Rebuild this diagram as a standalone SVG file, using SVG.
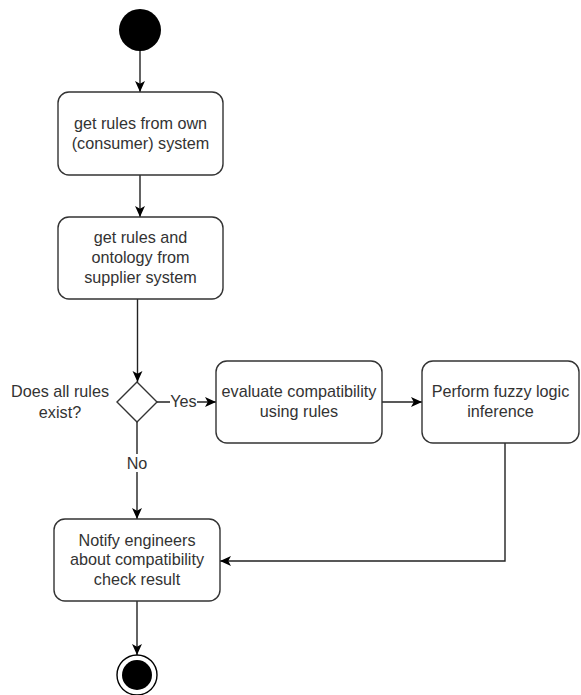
<svg xmlns="http://www.w3.org/2000/svg" width="581" height="695" viewBox="0 0 581 695">
<style>
.box{fill:#fff;stroke:#333;stroke-width:1.4}
.t{font-family:"Liberation Sans",Arial,sans-serif;font-size:16.2px;fill:#333;text-anchor:middle}
.c{fill:none;stroke:#222;stroke-width:1.4}
</style>
<defs>
<marker id="arr" viewBox="0 0 10 10" refX="10" refY="5" markerWidth="11" markerHeight="11" markerUnits="userSpaceOnUse" orient="auto">
<path d="M0,0.5 L10,5 L0,9.5 L2.5,5 Z" fill="#000"/>
</marker>
</defs>
<rect width="581" height="695" fill="#fff"/>
<g id="connectors">
<line class="c" x1="140" y1="51" x2="140" y2="92" marker-end="url(#arr)"/>
<line class="c" x1="140" y1="175" x2="140" y2="217" marker-end="url(#arr)"/>
<line class="c" x1="137.5" y1="299" x2="137.5" y2="382" marker-end="url(#arr)"/>
<line class="c" x1="157" y1="402" x2="216" y2="402" marker-end="url(#arr)"/>
<line class="c" x1="382" y1="402" x2="422" y2="402" marker-end="url(#arr)"/>
<line class="c" x1="137" y1="422" x2="137" y2="519" marker-end="url(#arr)"/>
<polyline class="c" points="505,443 505,561 220,561" marker-end="url(#arr)"/>
<line class="c" x1="137" y1="601" x2="137" y2="655" marker-end="url(#arr)"/>
<rect x="170" y="394" width="27" height="14" fill="#fff"/>
<text class="t" x="183.5" y="407">Yes</text>
<rect x="126" y="454" width="22" height="18" fill="#fff"/>
<text class="t" x="137" y="469">No</text>
</g>
<g id="start">
<circle cx="140" cy="30" r="21" fill="#000"/>
</g>
<g id="getOwnRules">
<rect class="box" x="58" y="92" width="165" height="83" rx="11"/>
<text class="t" x="140.5" y="129">get rules from own</text>
<text class="t" x="140.5" y="149">(consumer) system</text>
</g>
<g id="getSupplierRules">
<rect class="box" x="58" y="217" width="165" height="82" rx="11"/>
<text class="t" x="140.5" y="243">get rules and</text>
<text class="t" x="140.5" y="263">ontology from</text>
<text class="t" x="140.5" y="283">supplier system</text>
</g>
<g id="decision">
<polygon class="box" points="137,382 157,402 137,422 117,402"/>
<text class="t" x="60" y="397">Does all rules</text>
<text class="t" x="60" y="418">exist?</text>
</g>
<g id="evaluate">
<rect class="box" x="216" y="361" width="166" height="82" rx="11"/>
<text class="t" x="299" y="397">evaluate compatibility</text>
<text class="t" x="299" y="417">using rules</text>
</g>
<g id="fuzzy">
<rect class="box" x="422" y="361" width="157" height="82" rx="11"/>
<text class="t" x="500.5" y="397">Perform fuzzy logic</text>
<text class="t" x="500.5" y="417">inference</text>
</g>
<g id="notify">
<rect class="box" x="54" y="519" width="166" height="82" rx="11"/>
<text class="t" x="137" y="546">Notify engineers</text>
<text class="t" x="137" y="565">about compatibility</text>
<text class="t" x="137" y="585">check result</text>
</g>
<g id="end">
<circle cx="137" cy="675" r="20" fill="#fff" stroke="#000" stroke-width="1.4"/>
<circle cx="137" cy="675" r="15" fill="#000"/>
</g>
</svg>
